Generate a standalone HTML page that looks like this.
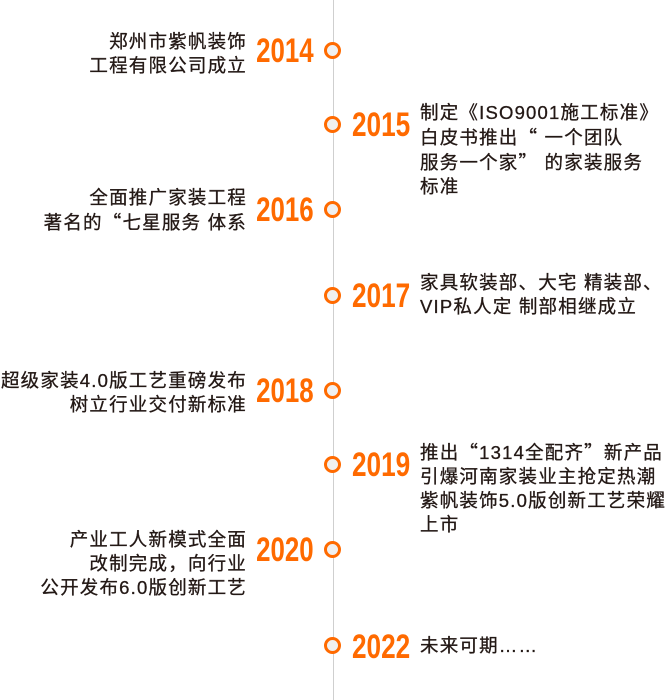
<!DOCTYPE html>
<html><head><meta charset="utf-8"><style>
html,body{margin:0;padding:0;background:#fff;}
body{width:667px;height:700px;position:relative;overflow:hidden;font-family:"Liberation Sans","Noto Sans CJK SC",sans-serif;}
.line{position:absolute;left:333px;top:0;width:1px;height:700px;background:#cfcfcf;}
.dot{position:absolute;width:11px;height:11px;border:3.5px solid #ff6a00;border-radius:50%;background:#f0f0f0;}
.yr{position:absolute;font-weight:bold;font-size:34px;line-height:34px;color:#ff6a00;white-space:nowrap;}
.yl{transform:scaleX(0.76);transform-origin:right center;text-align:right;}
.yrr{transform:scaleX(0.77);transform-origin:left center;}
.t{position:absolute;font-size:18.5px;line-height:24px;letter-spacing:1.2px;color:#231815;white-space:nowrap;-webkit-text-stroke:0.3px #231815;}
.q{font-family:"Noto Sans CJK SC",sans-serif;}
.tl{right:420px;text-align:right;}
.tr{left:420px;}
</style></head><body>
<div class="line"></div>

<div class="dot" style="left:324px;top:42px"></div>
<div class="yr yl" style="right:353px;top:34px">2014</div>
<div class="t tl" style="top:30px">郑州市紫帆装饰<br>工程有限公司成立</div>

<div class="dot" style="left:324px;top:116px"></div>
<div class="yr yrr" style="left:352px;top:108px">2015</div>
<div class="t tr" style="top:101px">制定《ISO9001施工标准》<br>白皮书推出<span class="q">“</span> 一个团队<br>服务一个家<span class="q">”</span> 的家装服务<br>标准</div>

<div class="dot" style="left:324px;top:201px"></div>
<div class="yr yl" style="right:353px;top:193px">2016</div>
<div class="t tl" style="top:186px">全面推广家装工程<br>著名的<span class="q">“</span>七星服务 体系</div>

<div class="dot" style="left:324px;top:287px"></div>
<div class="yr yrr" style="left:352px;top:279px">2017</div>
<div class="t tr" style="top:271px">家具软装部、大宅 精装部、<br>VIP私人定 制部相继成立</div>

<div class="dot" style="left:324px;top:382px"></div>
<div class="yr yl" style="right:353px;top:374px">2018</div>
<div class="t tl" style="top:369px">超级家装4.0版工艺重磅发布<br>树立行业交付新标准</div>

<div class="dot" style="left:324px;top:456px"></div>
<div class="yr yrr" style="left:352px;top:448px">2019</div>
<div class="t tr" style="top:440px">推出<span class="q">“</span>1314全配齐<span class="q">”</span>新产品<br>引爆河南家装业主抢定热潮<br>紫帆装饰5.0版创新工艺荣耀<br>上市</div>

<div class="dot" style="left:324px;top:541px"></div>
<div class="yr yl" style="right:353px;top:533px">2020</div>
<div class="t tl" style="top:528px">产业工人新模式全面<br>改制完成，向行业<br>公开发布6.0版创新工艺</div>

<div class="dot" style="left:324px;top:637px"></div>
<div class="yr yrr" style="left:352px;top:630px">2022</div>
<div class="t tr" style="top:634px">未来可期……</div>
</body></html>
